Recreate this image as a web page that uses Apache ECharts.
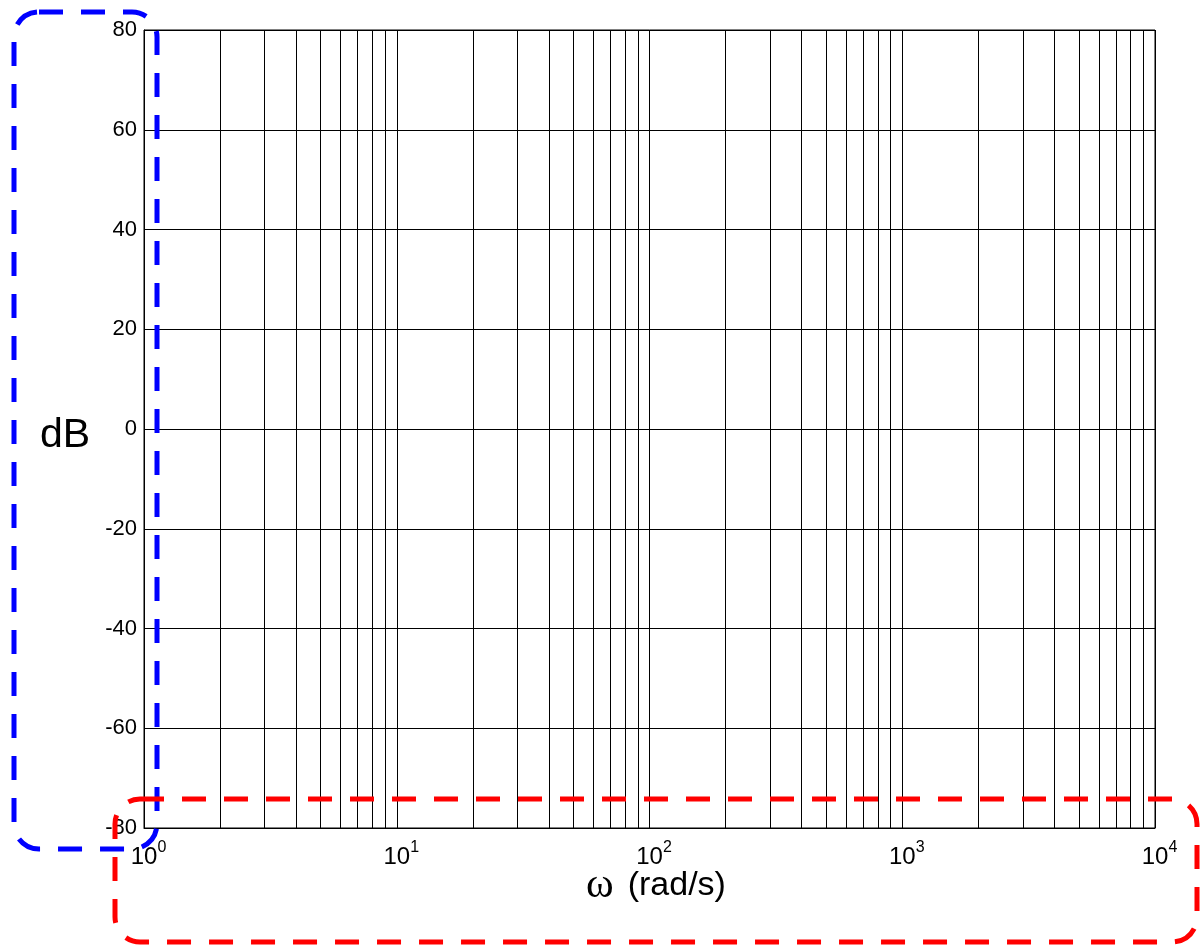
<!DOCTYPE html>
<html>
<head>
<meta charset="utf-8">
<script src="https://cdn.jsdelivr.net/npm/echarts@6/dist/echarts.min.js"></script>
<style>html,body{margin:0;padding:0;background:#fff}#c{width:1202px;height:945px}</style>
</head>
<body>
<div id="c"></div>
<script>
// ---- data ----
const xMin = 1, xMax = 10000;
const yMin = -80, yMax = 80, yStep = 20;
const majorX = [1, 10, 100, 1000, 10000];
const minorX = [2,3,4,5,6,7,8,9, 20,30,40,50,60,70,80,90, 200,300,400,500,600,700,800,900, 2000,3000,4000,5000,6000,7000,8000,9000];
const yLabel = 'dB';
const xLabelSymbol = 'ω';
const xLabelUnit = '(rad/s)';

const chart = echarts.init(document.getElementById('c'), null, {renderer: 'canvas'});
const font = 'Arial, "Liberation Sans", Helvetica, sans-serif';
chart.setOption({
  animation: false,
  backgroundColor: '#fff',
  grid: {left: 144, right: 47, top: 30, bottom: 117, show: true, borderColor: '#000', borderWidth: 1, containLabel: false},
  xAxis: {
    type: 'log', logBase: 10, min: xMin, max: xMax,
    axisLine: {show: true, onZero: false, lineStyle: {color: '#000', width: 1}},
    axisTick: {show: true, inside: true, length: 6, lineStyle: {color: '#000'}},
    splitLine: {show: true, lineStyle: {color: '#000', width: 1}},
    axisLabel: {
      margin: 12,
      formatter: v => '{p|}{b|10}{s|' + Math.round(Math.log10(v)) + '}',
      rich: {
        p: {width: 9, fontSize: 16},
        b: {fontSize: 24, fontFamily: font, color: '#000', verticalAlign: 'bottom'},
        s: {fontSize: 16, fontFamily: font, color: '#000', width: 9, verticalAlign: 'bottom', padding: [0, 0, 13, 0]}
      }
    }
  },
  yAxis: {
    type: 'value', min: yMin, max: yMax, interval: yStep,
    axisLine: {show: true, lineStyle: {color: '#000', width: 1}},
    axisTick: {show: true, inside: true, length: 6, lineStyle: {color: '#000'}},
    splitLine: {show: true, lineStyle: {color: '#000', width: 1}},
    axisLabel: {margin: 7, fontSize: 22, fontFamily: font, color: '#000'}
  },
  series: [{
    type: 'line', data: [], silent: true,
    markLine: {
      silent: true, symbol: ['none', 'none'], animation: false,
      label: {show: false},
      lineStyle: {color: '#000', width: 1, type: 'solid'},
      data: minorX.map(v => ({xAxis: v}))
    }
  }],
  graphic: [
    {type: 'text', x: 65, y: 436, z: 50,
     style: {text: yLabel, font: '41px ' + font, fill: '#000', align: 'center', verticalAlign: 'middle'}},
    {type: 'text', x: 656, y: 886, z: 50,
     style: {
       text: '{w|' + xLabelSymbol + '}{g|}{t|' + xLabelUnit + '}',
       align: 'center', verticalAlign: 'middle',
       rich: {
         w: {font: '42px "Liberation Serif", "Times New Roman", serif', fill: '#000'},
         g: {width: 14},
         t: {font: '34px ' + font, fill: '#000'}
       }
     }},
    {type: 'rect', z: 100, silent: true,
     shape: {x: 14, y: 12, width: 143, height: 837, r: 25},
     style: {fill: 'none', stroke: '#0000ff', lineWidth: 5, lineDash: [24, 18]}},
    {type: 'rect', z: 100, silent: true,
     shape: {x: 115, y: 799, width: 1082, height: 143, r: 25},
     style: {fill: 'none', stroke: '#ff0000', lineWidth: 5, lineDash: [24, 18]}}
  ]
});
</script>
</body>
</html>
